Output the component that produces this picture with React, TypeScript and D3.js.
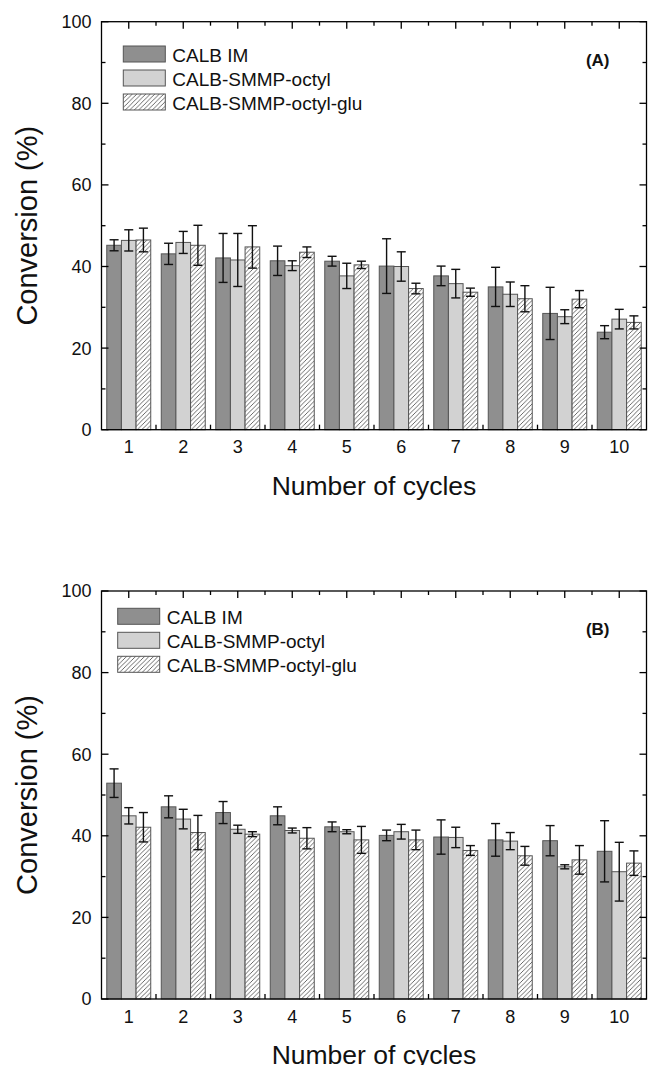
import React from 'react';
import * as d3 from 'd3';

const cycles = ['1', '2', '3', '4', '5', '6', '7', '8', '9', '10'];
const seriesNames = ['CALB IM', 'CALB-SMMP-octyl', 'CALB-SMMP-octyl-glu'];
const yTicks = [0, 20, 40, 60, 80, 100];
const yMinorTicks = [10, 30, 50, 70, 90];

// panel (A)
const aIm = [45.2, 43.1, 42.1, 41.4, 41.3, 40.1, 37.7, 35.0, 28.5, 23.9];
const aImErr = [1.35, 2.6, 6.0, 3.6, 1.2, 6.7, 2.4, 4.8, 6.4, 1.6];
const aOctyl = [46.4, 45.9, 41.6, 40.2, 37.7, 40.0, 35.8, 33.2, 27.7, 27.1];
const aOctylErr = [2.6, 2.7, 6.5, 1.2, 3.1, 3.6, 3.5, 3.0, 1.7, 2.4];
const aGlu = [46.5, 45.2, 44.8, 43.5, 40.4, 34.6, 33.7, 32.1, 32.0, 26.3];
const aGluErr = [2.9, 4.9, 5.2, 1.3, 0.9, 1.3, 1.0, 3.2, 2.1, 1.6];

// panel (B)
const bIm = [52.9, 47.1, 45.7, 44.9, 42.2, 40.1, 39.7, 39.0, 38.8, 36.2];
const bImErr = [3.5, 2.7, 2.7, 2.2, 1.2, 1.3, 4.2, 4.0, 3.7, 7.5];
const bOctyl = [44.9, 44.1, 41.6, 41.3, 41.0, 41.0, 39.6, 38.7, 32.4, 31.2];
const bOctylErr = [2.0, 2.4, 1.0, 0.6, 0.5, 1.8, 2.5, 2.1, 0.5, 7.2];
const bGlu = [42.1, 40.8, 40.4, 39.4, 39.0, 39.0, 36.4, 35.1, 34.1, 33.3];
const bGluErr = [3.6, 4.2, 0.6, 2.6, 3.3, 2.4, 1.2, 2.3, 3.5, 3.0];

const FONT = '"Liberation Sans", Arial, Helvetica, sans-serif';
const fills = ['#8f8f8f', '#d2d2d2', 'url(#hatch)'];

interface PanelProps {
  top: number;
  label: string;
  means: number[][];
  errs: number[][];
  legendX: number;
  legendY: number;
}

const LEFT = 101.5;
const RIGHT = 646.5;
const H = 408;

const Panel: React.FC<PanelProps> = ({ top, label, means, errs, legendX, legendY }) => {
  const bottom = top + H;
  const x0 = d3.scaleBand<string>().domain(cycles).range([LEFT, RIGHT])
    .paddingInner(0.193).paddingOuter(0.0965);
  const x1 = d3.scaleBand<number>().domain([0, 1, 2]).range([0, x0.bandwidth()]);
  const y = d3.scaleLinear().domain([0, 100]).range([bottom, top]);
  const step = x0.step();
  const centers = cycles.map(c => (x0(c) as number) + x0.bandwidth() / 2);
  const bounds = cycles.slice(1).map(c => (x0(c) as number) - (step - x0.bandwidth()) / 2);

  return (
    <g>
      {/* bars */}
      {cycles.map((c, i) => (
        <g key={c}>
          {means.map((m, s) => (
            <rect key={s}
              x={(x0(c) as number) + (x1(s) as number)}
              y={y(m[i])}
              width={x1.bandwidth()}
              height={bottom - y(m[i])}
              fill={fills[s]}
              stroke="#555" strokeWidth={1} />
          ))}
        </g>
      ))}
      {/* error bars */}
      {cycles.map((c, i) => (
        <g key={'e' + c} stroke="#111" strokeWidth={1.4}>
          {means.map((m, s) => {
            const cx = (x0(c) as number) + (x1(s) as number) + x1.bandwidth() / 2;
            const hi = y(m[i] + errs[s][i]);
            const lo = y(m[i] - errs[s][i]);
            return (
              <g key={s}>
                <line x1={cx} x2={cx} y1={hi} y2={lo} />
                <line x1={cx - 4.5} x2={cx + 4.5} y1={hi} y2={hi} />
                <line x1={cx - 4.5} x2={cx + 4.5} y1={lo} y2={lo} />
              </g>
            );
          })}
        </g>
      ))}
      {/* frame and ticks */}
      <g stroke="#000" strokeWidth={1.3}>
        <rect x={LEFT} y={top} width={RIGHT - LEFT} height={H} fill="none" />
        {yTicks.map(t => (
          <g key={'y' + t}>
            <line x1={LEFT} x2={LEFT + 7} y1={y(t)} y2={y(t)} />
            <line x1={RIGHT} x2={RIGHT - 7} y1={y(t)} y2={y(t)} />
          </g>
        ))}
        {yMinorTicks.map(t => (
          <g key={'ym' + t}>
            <line x1={LEFT} x2={LEFT + 4} y1={y(t)} y2={y(t)} />
            <line x1={RIGHT} x2={RIGHT - 4} y1={y(t)} y2={y(t)} />
          </g>
        ))}
        {centers.map((cx, i) => (
          <line key={'tc' + i} x1={cx} x2={cx} y1={top} y2={top + 7} />
        ))}
        {bounds.map((bx, i) => (
          <g key={'tb' + i}>
            <line x1={bx} x2={bx} y1={top} y2={top + 4} />
            <line x1={bx} x2={bx} y1={bottom} y2={bottom - 5} />
          </g>
        ))}
      </g>
      {/* tick labels */}
      <g fontFamily={FONT} fontSize={18} fill="#111">
        {yTicks.map(t => (
          <text key={'yl' + t} x={LEFT - 10} y={y(t)} dy="0.36em" textAnchor="end">{t}</text>
        ))}
        {cycles.map((c, i) => (
          <text key={'xl' + c} x={centers[i]} y={bottom + 23.5} textAnchor="middle">{c}</text>
        ))}
      </g>
      <text x={(LEFT + RIGHT) / 2} y={bottom + 65} textAnchor="middle"
        fontFamily={FONT} fontSize={26.5} fill="#111">Number of cycles</text>
      <text transform={`translate(${37},${(top + bottom) / 2}) rotate(-90)`} textAnchor="middle"
        fontFamily={FONT} fontSize={29} fill="#111">Conversion (%)</text>
      <text x={RIGHT - 37} y={top + 44} textAnchor="end"
        fontFamily={FONT} fontSize={17} fontWeight="bold" fill="#111">{label}</text>
      {/* legend */}
      <g fontFamily={FONT} fontSize={19} fill="#111">
        {seriesNames.map((n, s) => (
          <g key={n} transform={`translate(${legendX},${legendY + s * 24})`}>
            <rect x={0} y={0} width={42} height={16} fill={fills[s]} stroke="#555" strokeWidth={1} />
            <text x={49} y={15.5}>{n}</text>
          </g>
        ))}
      </g>
    </g>
  );
};

const App: React.FC = () => (
  <svg width={649} height={1065} style={{ position: 'absolute', left: 0, top: 0, background: '#fff' }}>
    <defs>
      <pattern id="hatch" patternUnits="userSpaceOnUse" width={4.5} height={4.5}>
        <rect width={4.5} height={4.5} fill="#fff" />
        <path d="M-1,1 l2,-2 M0,4.5 l4.5,-4.5 M3.5,5.5 l2,-2" stroke="#444" strokeWidth={0.8} />
      </pattern>
    </defs>
    <Panel top={21.7} label="(A)" means={[aIm, aOctyl, aGlu]} errs={[aImErr, aOctylErr, aGluErr]}
      legendX={123.3} legendY={46} />
    <Panel top={591} label="(B)" means={[bIm, bOctyl, bGlu]} errs={[bImErr, bOctylErr, bGluErr]}
      legendX={117.7} legendY={608.3} />
  </svg>
);

export default App;
